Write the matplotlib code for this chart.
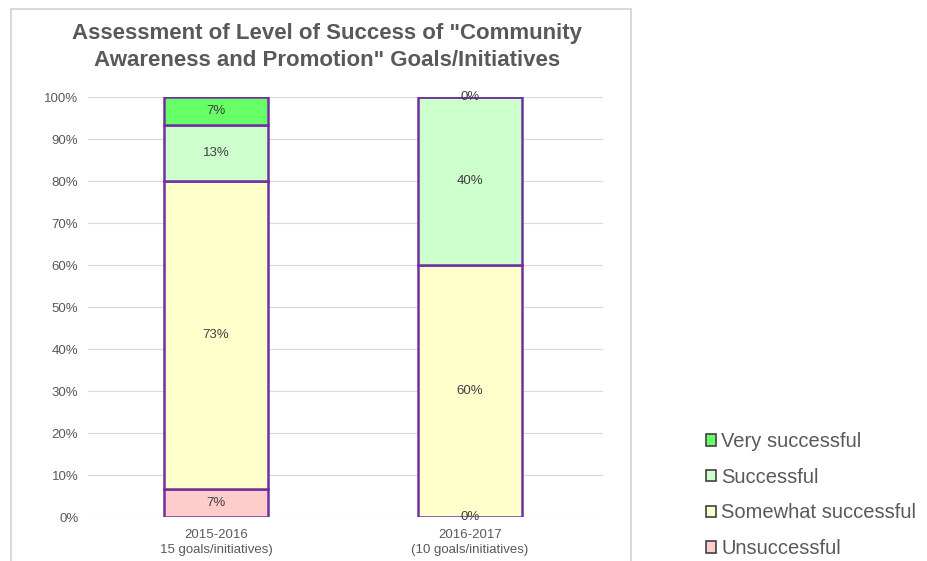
import matplotlib
matplotlib.use("Agg")
import matplotlib.pyplot as plt
from matplotlib.patches import Patch, Rectangle
import numpy as np

plt.rcParams['font.family'] = ['Liberation Sans', 'DejaVu Sans']

categories = ["2015-2016\n15 goals/initiatives)", "2016-2017\n(10 goals/initiatives)"]
series_names = ["Unsuccessful", "Somewhat successful", "Successful", "Very successful"]
unsuccessful = [6.67, 0.0]
somewhat = [73.33, 60.0]
successful = [13.33, 40.0]
very = [6.67, 0.0]
labels_unsuccessful = ["7%", "0%"]
labels_somewhat = ["73%", "60%"]
labels_successful = ["13%", "40%"]
labels_very = ["7%", "0%"]
colors = ["#FFCCCC", "#FFFFCC", "#CCFFCC", "#66FF66"]
yticks = [0, 10, 20, 30, 40, 50, 60, 70, 80, 90, 100]

W, H = 927, 561
fig = plt.figure(figsize=(W / 100, H / 100), dpi=100)
ax = fig.add_axes([88 / W, 44 / H, 515 / W, 420 / H])

x = np.arange(len(categories))
series = [unsuccessful, somewhat, successful, very]
labs = [labels_unsuccessful, labels_somewhat, labels_successful, labels_very]
bottom = np.zeros(len(categories))
for vals, lab, col, name in zip(series, labs, colors, series_names):
    vals = np.array(vals)
    ax.bar(x, vals, 0.41, bottom=bottom, color=col, edgecolor="#7030A0",
           linewidth=1.8, zorder=3, label=name)
    for xi, b, v, t in zip(x, bottom, vals, lab):
        ax.text(xi, b + v / 2, t, ha="center", va="center", fontsize=9.5,
                color="#404040", zorder=4)
    bottom = bottom + vals

ax.set_xlim(-0.504, 1.524)
ax.set_ylim(0, 100)
ax.set_yticks(yticks)
ax.set_yticklabels([f"{v}%" for v in yticks])
ax.set_xticks(x)
ax.set_xticklabels(categories, fontsize=9.5, color="#595959", linespacing=1.25)
ax.tick_params(axis="y", length=0, pad=7, labelsize=9.5, labelcolor="#595959")
ax.tick_params(axis="x", length=0, pad=9)
for s in ax.spines.values():
    s.set_visible(False)
ax.yaxis.grid(True, color="#D9D9D9", linewidth=0.8, zorder=0)
ax.set_axisbelow(True)

fig.text(327 / W, 1 - 47 / H, "Assessment of Level of Success of \"Community\nAwareness and Promotion\" Goals/Initiatives",
         ha="center", va="center", fontsize=16, fontweight="bold", color="#595959",
         linespacing=1.4)

# chart border
fig.patches.append(Rectangle((11 / W, -0.05), 620 / W, 1.05 - 9 / H, transform=fig.transFigure,
                             fill=False, edgecolor="#D9D9D9", linewidth=1.5))

handles = [Patch(facecolor=c, edgecolor="#404040", linewidth=1.2) for c in colors[::-1]]
fig.legend(handles, series_names[::-1], loc="upper left",
           bbox_to_anchor=(706 / W, 1 - 432 / H), frameon=False, fontsize=14.5,
           labelcolor="#595959", handlelength=0.5, handleheight=0.5,
           handletextpad=0.25, labelspacing=0.83, borderaxespad=0, borderpad=0)

fig.savefig("out.png", dpi=100)
